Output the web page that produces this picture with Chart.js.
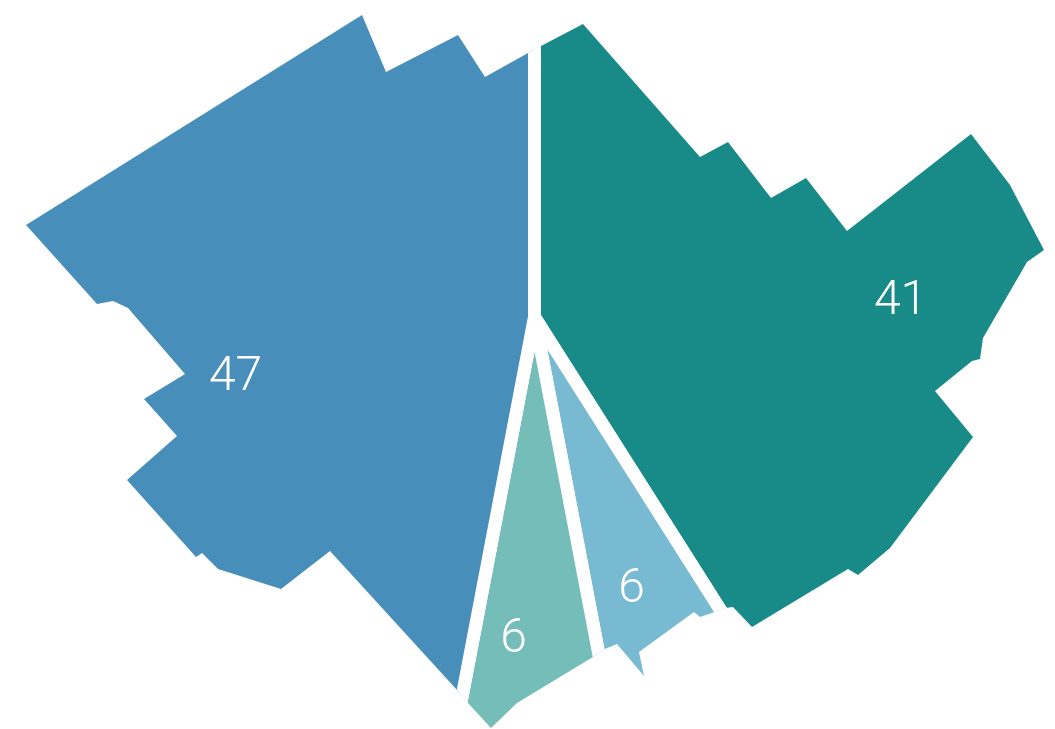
<!DOCTYPE html>
<html>
<head>
<meta charset="utf-8">
<title>Map pie</title>
<script src="https://cdn.jsdelivr.net/npm/chart.js@4/dist/chart.umd.min.js"></script>
<style>
    html, body { margin: 0; padding: 0; background: #fff; overflow: hidden; }
    canvas { display: block; }
</style>
</head>
<body>
<canvas id="mapPie" width="1055" height="729"></canvas>
<script>
var categories = ['A', 'B', 'C', 'D'];
var seriesValues = [41, 6, 6, 47];
var sliceColors = ['#188a88', '#78bad2', '#74bdb9', '#488eba'];

// outline of the region, the pie only shows through this shape
var outline = [
    [362,15],[386,72],[458,35],[485,77],[528,53],[541,46],[583,24],[700,157],[728,142],
    [771,198],[806,178],[847,231],[971,134],[1010,185],[1044,250],[1027,262],[983,338],
    [980,359],[972,361],[935,391],[973,437],[890,548],[858,575],[848,569],[752,627],
    [733,607],[725,608],[712,613],[700,617],[694,612],[639,652],[644,676],[617,644],
    [605,649],[593,657],[517,703],[491,728],[468,703],[457,690],[330,551],[281,589],
    [218,569],[202,553],[196,557],[127,480],[177,436],[144,399],[185,374],[128,308],
    [113,301],[97,304],[26,225]
];

// label offsets from the pie centre
var labelOffsets = [[366,-15],[97,273],[-21,323],[-299,61]];

var mapMask = {
    id: 'mapMask',
    beforeDatasetsDraw: function(chart) {
        var ctx = chart.ctx;
        ctx.save();
        ctx.beginPath();
        outline.forEach(function(p, i) {
            if (i === 0) ctx.moveTo(p[0], p[1]);
            else ctx.lineTo(p[0], p[1]);
        });
        ctx.closePath();
        ctx.clip();
    },
    afterDatasetsDraw: function(chart) {
        var ctx = chart.ctx;
        ctx.restore();

        // value labels
        var arcs = chart.getDatasetMeta(0).data;
        ctx.save();
        ctx.fillStyle = '#ffffff';
        ctx.font = '300 48px Roboto';
        ctx.textAlign = 'center';
        ctx.textBaseline = 'middle';
        arcs.forEach(function(arc, i) {
            ctx.fillText(String(seriesValues[i]), arc.x + labelOffsets[i][0], arc.y + labelOffsets[i][1]);
        });
        ctx.restore();
    }
};

var mapPie = new Chart(document.getElementById('mapPie').getContext('2d'), {
    type: 'pie',
    data: {
        labels: categories,
        datasets: [{
            data: seriesValues,
            backgroundColor: sliceColors,
            borderColor: '#ffffff',
            borderWidth: 13,
            clip: false
        }]
    },
    options: {
        responsive: false,
        animation: false,
        radius: 600,
        layout: { padding: { left: 14, bottom: 95 } },
        plugins: {
            legend: { display: false },
            tooltip: { enabled: false }
        }
    },
    plugins: [mapMask]
});
</script>
</body>
</html>
